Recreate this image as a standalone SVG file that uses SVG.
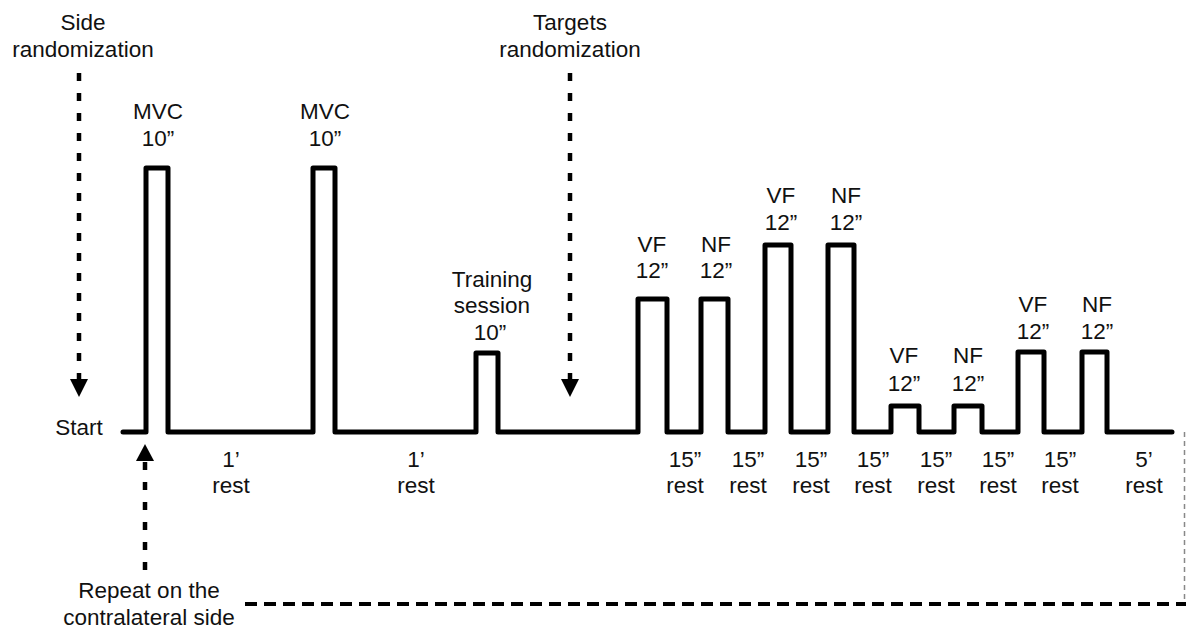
<svg xmlns="http://www.w3.org/2000/svg" width="1186" height="632" viewBox="0 0 1186 632">
<style>
text{font-family:"Liberation Sans",Arial,Helvetica,sans-serif;font-size:22.5px;fill:#111;text-anchor:middle}
.sig{fill:none;stroke:#000;stroke-width:5;stroke-linejoin:round;stroke-linecap:round}
.dash{fill:none;stroke:#000;stroke-width:4.5;stroke-dasharray:8 12}
.hdash{fill:none;stroke:#000;stroke-width:4;stroke-dasharray:12 7}
.thin{fill:none;stroke:#888;stroke-width:1.5;stroke-dasharray:5 4}
.head{fill:#000}
</style>
<rect width="1186" height="632" fill="#fff"/>
<g id="signal">
<path class="sig" d="M123,432 H146 V168 H168 V432 H313 V168 H335 V432 H476 V353 H498 V432 H638 V299 H667 V432 H701 V299 H728 V432 H765 V245 H791 V432 H828 V245 H854 V432 H891 V406 H919 V432 H954 V406 H982 V432 H1018 V352 H1044 V432 H1082 V352 H1107 V432 H1172"/>
</g>
<g id="connectors">
<line class="dash" x1="79" y1="73" x2="79" y2="380"/>
<polygon class="head" points="70,379 88,379 79,397"/>
<line class="dash" x1="570" y1="73" x2="570" y2="380"/>
<polygon class="head" points="561,379 579,379 570,397"/>
<line class="dash" x1="145" y1="570" x2="145" y2="461"/>
<polygon class="head" points="136,461 154,461 145,444"/>
<line class="hdash" x1="245" y1="604" x2="1186" y2="604"/>
<line class="thin" x1="1184.5" y1="432" x2="1184.5" y2="602"/>
</g>
<g id="side-randomization"><text x="83" y="30">Side</text><text x="83" y="57">randomization</text></g>
<g id="targets-randomization"><text x="570" y="30">Targets</text><text x="570" y="57">randomization</text></g>
<g id="start"><text x="79" y="435">Start</text></g>
<g id="repeat"><text x="149" y="598">Repeat on the</text><text x="149" y="625">contralateral side</text></g>
<g id="mvc1"><text x="158" y="119">MVC</text><text x="158" y="146">10”</text></g>
<g id="mvc2"><text x="325" y="119">MVC</text><text x="325" y="146">10”</text></g>
<g id="training"><text x="492" y="287">Training</text><text x="492" y="313">session</text><text x="490" y="340">10”</text></g>
<g id="vf1"><text x="652" y="252">VF</text><text x="652" y="278">12”</text></g>
<g id="nf1"><text x="716" y="252">NF</text><text x="716" y="278">12”</text></g>
<g id="vf2"><text x="781" y="203">VF</text><text x="781" y="230">12”</text></g>
<g id="nf2"><text x="846" y="203">NF</text><text x="846" y="230">12”</text></g>
<g id="vf3"><text x="904" y="363">VF</text><text x="904" y="391">12”</text></g>
<g id="nf3"><text x="968" y="363">NF</text><text x="968" y="391">12”</text></g>
<g id="vf4"><text x="1033" y="312">VF</text><text x="1033" y="339">12”</text></g>
<g id="nf4"><text x="1097" y="312">NF</text><text x="1097" y="339">12”</text></g>
<g id="rest1"><text x="231" y="467">1’</text><text x="231" y="493">rest</text></g>
<g id="rest2"><text x="416" y="467">1’</text><text x="416" y="493">rest</text></g>
<g id="rest3"><text x="685" y="467">15”</text><text x="685" y="493">rest</text></g>
<g id="rest4"><text x="748" y="467">15”</text><text x="748" y="493">rest</text></g>
<g id="rest5"><text x="811" y="467">15”</text><text x="811" y="493">rest</text></g>
<g id="rest6"><text x="873" y="467">15”</text><text x="873" y="493">rest</text></g>
<g id="rest7"><text x="936" y="467">15”</text><text x="936" y="493">rest</text></g>
<g id="rest8"><text x="998" y="467">15”</text><text x="998" y="493">rest</text></g>
<g id="rest9"><text x="1060" y="467">15”</text><text x="1060" y="493">rest</text></g>
<g id="rest10"><text x="1144" y="467">5’</text><text x="1144" y="493">rest</text></g>
</svg>
